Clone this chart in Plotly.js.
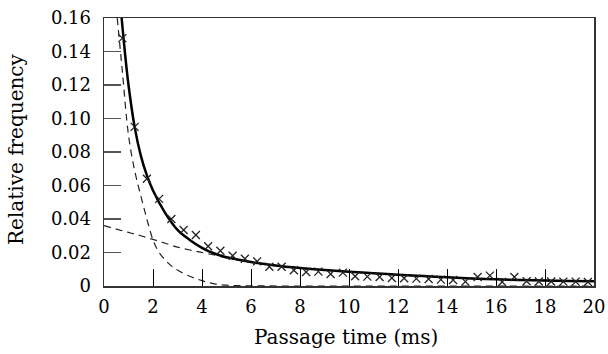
<!DOCTYPE html>
<html>
<head>
<meta charset="utf-8">
<script src="https://cdn.plot.ly/plotly-3.0.1.min.js"></script>
<style>html,body{margin:0;padding:0;background:#fff;}#chart{width:608px;height:354px;}</style>
</head>
<body>
<div id="chart"></div>
<script>
// Observed relative frequencies (crosses)
const obsTime = [0.75,1.25,1.75,2.25,2.75,3.25,3.75,4.25,4.75,5.25,5.75,6.25,6.75,7.25,7.75,8.25,8.75,9.25,9.75,10.25,10.75,11.25,11.75,12.25,12.75,13.25,13.75,14.25,14.75,15.25,15.75,16.25,16.75,17.25,17.75,18.25,18.75,19.25,19.75];
const obsFreq = [0.148,0.095,0.064,0.052,0.040,0.0334,0.0304,0.0237,0.0210,0.0181,0.0163,0.0147,0.0115,0.0115,0.0094,0.0084,0.0086,0.0072,0.0080,0.0058,0.0056,0.0054,0.0048,0.0046,0.0044,0.0042,0.0038,0.0036,0.0026,0.0054,0.0062,0.0024,0.0054,0.0028,0.0027,0.0027,0.0026,0.0026,0.0024];

// Fitted total curve (solid)
const fitTime = [0.72,0.85,1.0,1.25,1.5,1.75,2.0,2.5,3.0,3.5,4.0,4.5,5.0,5.5,6.0,7.0,8.0,9.0,10,11,12,13,14,15,16,17,18,19,20];
const fitFreq = [0.160,0.140,0.120,0.095,0.078,0.066,0.057,0.0435,0.0335,0.0275,0.0228,0.0194,0.0172,0.0157,0.0143,0.0122,0.0107,0.0095,0.0085,0.0076,0.0067,0.0059,0.0052,0.0045,0.0040,0.0036,0.0033,0.0030,0.0028];

// Fast component (dashed)
const fastTime = [0.54,0.75,1.0,1.25,1.5,1.75,2.0,2.25,2.5,2.75,3.0,3.5,4.0,4.5,5.0,6.0,8.0,10,12,14,16,18,20];
const fastFreq = [0.160,0.128,0.090,0.069,0.054,0.040,0.0275,0.020,0.0155,0.012,0.0095,0.0058,0.0032,0.0013,0.0005,0.0001,0,0,0,0,0,0,0];

// Slow component (dashed)
const slowTime = [0,0.5,1,1.5,2,2.5,3,3.5,4,4.5,5,5.5,6,7,8,9,10,11,12,13,14,15,16,17,18,19,20];
const slowFreq = [0.036,0.034,0.032,0.030,0.0278,0.0255,0.0232,0.0215,0.0200,0.0185,0.0168,0.0155,0.0142,0.0121,0.0107,0.0095,0.0085,0.0076,0.0067,0.0059,0.0052,0.0045,0.0040,0.0036,0.0033,0.0030,0.0028];

// Tick labels
const xTickVals = [0,2,4,6,8,10,12,14,16,18,20];
const xTickText = ['0','2','4','6','8','10','12','14','16','18','20'];
const yTickVals = [0,0.02,0.04,0.06,0.08,0.10,0.12,0.14,0.16];
const yTickText = ['0','0.02','0.04','0.06','0.08','0.10','0.12','0.14','0.16'];

const xTitle = 'Passage time (ms)';
const yTitle = 'Relative frequency';

const FONT = 'DejaVu Serif, Liberation Serif, serif';
const X_RANGE = [0, 20];
const Y_RANGE = [0, 0.16];

const traces = [
  {x: fastTime, y: fastFreq, mode: 'lines', line: {color: '#222', width: 1.2, dash: '7px,5px', shape: 'spline'}, hoverinfo: 'skip'},
  {x: slowTime, y: slowFreq, mode: 'lines', line: {color: '#222', width: 1.2, dash: '7px,5px', shape: 'spline'}, hoverinfo: 'skip'},
  {x: fitTime, y: fitFreq, mode: 'lines', line: {color: '#000', width: 2.5, shape: 'spline'}},
  {x: obsTime, y: obsFreq, xaxis: 'x2', yaxis: 'y2', mode: 'markers', marker: {symbol: 'x-thin-open', size: 8, color: '#222', line: {color: '#222', width: 1.3}}}
];

const frameAxis = {
  showgrid: false, zeroline: false, showline: true, linecolor: '#333', linewidth: 1.5, mirror: true,
  showticklabels: false, ticks: 'inside', ticklen: 17, automargin: false
};
const labelAxis = {
  showgrid: false, zeroline: false, showline: false, ticks: '', showticklabels: true,
  tickfont: {family: FONT, size: 18, color: '#000'}, automargin: false, anchor: 'free', position: 0
};

const layout = {
  width: 608, height: 354,
  margin: {l: 91, r: 14, t: 18, b: 60},
  paper_bgcolor: '#fff', plot_bgcolor: '#fff',
  showlegend: false,
  font: {family: FONT, color: '#000', size: 18},
  xaxis: Object.assign({}, frameAxis, {domain: [13/503, 1], anchor: 'y', range: X_RANGE,
    tickmode: 'array', tickvals: xTickVals, tickwidth: 1, tickcolor: '#000'}),
  yaxis: Object.assign({}, frameAxis, {domain: [8/276, 1], anchor: 'x', range: Y_RANGE,
    tickmode: 'array', tickvals: yTickVals, tickwidth: 1.2, tickcolor: '#555'}),
  xaxis2: Object.assign({}, labelAxis, {overlaying: 'x', side: 'bottom', range: X_RANGE,
    tickmode: 'array', tickvals: xTickVals, ticktext: xTickText}),
  yaxis2: Object.assign({}, labelAxis, {overlaying: 'y', side: 'left', range: Y_RANGE,
    tickmode: 'array', tickvals: yTickVals, ticktext: yTickText}),
  annotations: [
    {text: xTitle, xref: 'paper', yref: 'paper', x: 0.507, y: -0.1558, xanchor: 'center', yanchor: 'middle',
     showarrow: false, font: {family: FONT, size: 20, color: '#000'}},
    {text: yTitle, xref: 'paper', yref: 'paper', x: -0.1491, y: 0.5254, xanchor: 'center', yanchor: 'middle',
     textangle: -90, showarrow: false, font: {family: FONT, size: 20, color: '#000'}}
  ]
};

Plotly.newPlot('chart', traces, layout, {staticPlot: true, displayModeBar: false});
</script>
</body>
</html>
